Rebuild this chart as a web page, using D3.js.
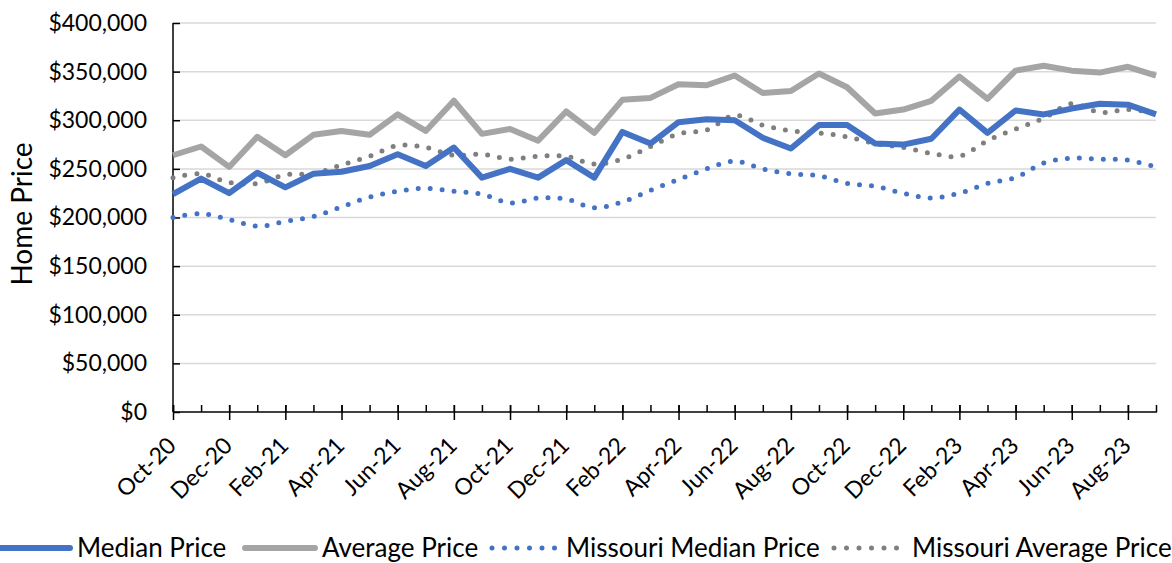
<!DOCTYPE html>
<html>
<head>
<meta charset="utf-8">
<script src="https://cdn.jsdelivr.net/npm/d3@7"></script>
<style>
  body { margin: 0; background: #fff; }
  svg { display: block; font-family: Lato, "Open Sans", sans-serif; }
</style>
</head>
<body>
<figure style="margin:0"></figure>
<script>
const months = ["Oct-20","Nov-20","Dec-20","Jan-21","Feb-21","Mar-21","Apr-21","May-21","Jun-21","Jul-21","Aug-21","Sep-21",
  "Oct-21","Nov-21","Dec-21","Jan-22","Feb-22","Mar-22","Apr-22","May-22","Jun-22","Jul-22","Aug-22","Sep-22",
  "Oct-22","Nov-22","Dec-22","Jan-23","Feb-23","Mar-23","Apr-23","May-23","Jun-23","Jul-23","Aug-23","Sep-23"];

const medianPrice = [224000,240000,225000,246000,231000,245000,247000,253000,265000,253000,272000,241000,
  250000,241000,259000,241000,288000,276000,298000,301000,300000,282000,271000,295000,
  295000,276000,275000,281000,311000,287000,310000,306000,312000,317000,316000,306000];

const averagePrice = [264000,273000,252000,283000,264000,285000,289000,285000,306000,289000,320000,286000,
  291000,279000,309000,287000,321000,323000,337000,336000,346000,328000,330000,348000,
  334000,307000,311000,320000,345000,322000,351000,356000,351000,349000,355000,346000];

const moMedianPrice = [200000,204000,198000,191000,196000,201000,211000,221000,227000,230000,227000,224000,
  215000,220000,219000,210000,216000,228000,239000,250000,258000,250000,245000,243000,
  235000,232000,225000,220000,225000,235000,241000,256000,261000,260000,259000,252000];

const moAveragePrice = [241000,245000,236000,235000,244000,245000,254000,263000,274000,272000,264000,265000,
  260000,263000,263000,255000,260000,273000,286000,290000,305000,295000,289000,287000,
  283000,276000,272000,266000,263000,279000,291000,302000,317000,308000,311000,307000];

const yTicks = [0,50000,100000,150000,200000,250000,300000,350000,400000];

const series = [
  {name: "Median Price", values: medianPrice, color: "#4472C4", dotted: false},
  {name: "Average Price", values: averagePrice, color: "#A5A5A5", dotted: false},
  {name: "Missouri Median Price", values: moMedianPrice, color: "#4472C4", dotted: true},
  {name: "Missouri Average Price", values: moAveragePrice, color: "#7F7F7F", dotted: true}
];

(() => {
  const totalWidth = 1172;
  const totalHeight = 563;
  const margin = {top: 23, right: 16, bottom: 151, left: 173};
  const graphWidth = totalWidth - margin.left - margin.right;
  const graphHeight = totalHeight - margin.top - margin.bottom;

  const svg = d3.select('figure').append('svg')
    .attr('width', totalWidth)
    .attr('height', totalHeight);

  const g = svg.append('g')
    .attr('transform', `translate(${margin.left}, ${margin.top})`);

  const x = d3.scalePoint()
    .domain(months)
    .range([0, graphWidth]);

  const y = d3.scaleLinear()
    .domain([0, 400000])
    .range([graphHeight, 0]);

  // gridlines
  g.append('g')
    .selectAll('line')
    .data(yTicks.filter(d => d > 0))
    .join('line')
      .attr('x1', 0)
      .attr('x2', graphWidth)
      .attr('y1', d => y(d))
      .attr('y2', d => y(d))
      .attr('stroke', '#D9D9D9')
      .attr('stroke-width', 1.5);

  // y axis
  const yGroup = g.append('g')
    .call(d3.axisLeft(y).tickValues(yTicks).tickSize(-7).tickPadding(26)
      .tickFormat(d => '$' + d3.format(',')(d)));
  yGroup.selectAll('line').attr('stroke', '#000').attr('stroke-width', 1.5);
  yGroup.select('.domain').attr('stroke', '#000').attr('stroke-width', 1.5).attr('d', `M0,0V${graphHeight}`);
  yGroup.selectAll('text').attr('font-size', 23).attr('fill', '#000').attr('font-family', 'Lato');

  // x axis minor ticks
  const minor = g.append('g')
    .attr('transform', `translate(0, ${graphHeight})`)
    .call(d3.axisBottom(x).tickSize(-7).tickFormat(''));
  minor.selectAll('line').attr('stroke', '#000').attr('stroke-width', 1.5);
  minor.select('.domain').remove();

  // x axis major ticks with labels
  const xGroup = g.append('g')
    .attr('transform', `translate(0, ${graphHeight})`)
    .call(d3.axisBottom(x).tickValues(months.filter((d, i) => i % 2 === 0)).tickSize(8));
  xGroup.selectAll('.tick line').attr('stroke', '#000').attr('stroke-width', 1.5).attr('y1', -7);
  xGroup.select('.domain').attr('stroke', '#000').attr('stroke-width', 1.5).attr('d', `M0,0H${graphWidth + 1}`);
  xGroup.selectAll('text')
    .attr('font-size', 23)
    .attr('fill', '#000')
    .attr('font-family', 'Lato')
    .attr('text-anchor', 'end')
    .attr('x', 0).attr('y', 0).attr('dy', 0)
    .attr('transform', 'translate(4, 35) rotate(-45)');

  // y title
  svg.append('text')
    .attr('transform', 'translate(32, 214) rotate(-90)')
    .attr('text-anchor', 'middle')
    .attr('font-size', 28)
    .text('Home Price');

  const line = d3.line()
    .x((d, i) => x(months[i]))
    .y(d => y(d));

  const smooth = d3.line()
    .curve(d3.curveCatmullRom)
    .x((d, i) => x(months[i]))
    .y(d => y(d));

  // draw Missouri (dotted) behind, then main series
  const drawOrder = [series[2], series[3], series[1], series[0]];
  g.append('g').selectAll('path')
    .data(drawOrder)
    .join('path')
      .attr('fill', 'none')
      .attr('stroke', d => d.color)
      .attr('stroke-width', d => d.dotted ? 5 : 6)
      .attr('stroke-linecap', d => d.dotted ? 'round' : 'butt')
      .attr('stroke-linejoin', 'round')
      .attr('stroke-dasharray', d => d.dotted ? '0 12' : null)
      .attr('d', d => d.dotted ? smooth(d.values) : line(d.values));

  // legend
  const legendY = 548;
  const legendPos = [
    {lx: 0, lw: 70, tx: 77},
    {lx: 245, lw: 70, tx: 322},
    {lx: 492, lw: 66, tx: 566},
    {lx: 834, lw: 66, tx: 912}
  ];
  const legend = svg.append('g');
  series.forEach((s, i) => {
    const p = legendPos[i];
    legend.append('line')
      .attr('x1', p.lx).attr('x2', p.lx + p.lw)
      .attr('y1', legendY).attr('y2', legendY)
      .attr('stroke', s.color)
      .attr('stroke-width', s.dotted ? 5 : 6)
      .attr('stroke-linecap', 'round')
      .attr('stroke-dasharray', s.dotted ? '0 12.5' : null);
    legend.append('text')
      .attr('x', p.tx).attr('y', legendY + 9)
      .attr('font-size', 26)
      .text(s.name);
  });
})();
</script>
</body>
</html>
